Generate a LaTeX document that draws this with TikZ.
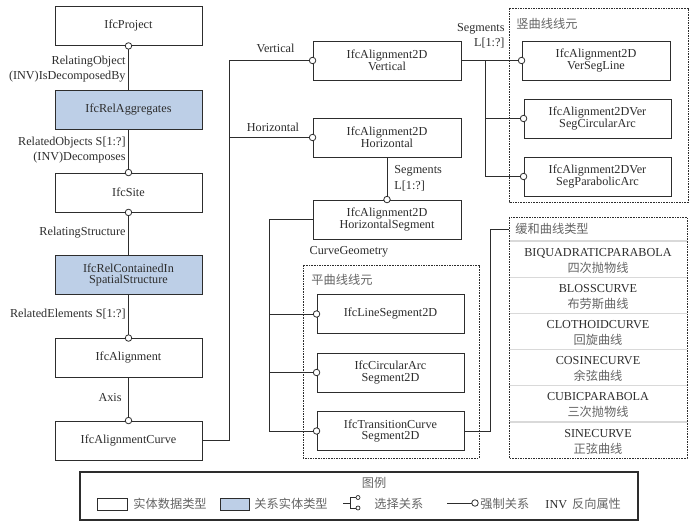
\documentclass[tikz,border=0pt]{standalone}
\usepackage{fontspec}
\setmainfont{Liberation Serif}
\newfontfamily\cjk{Noto Sans CJK SC}
\usetikzlibrary{positioning}
\definecolor{relblue}{RGB}{189,207,231}
\definecolor{inkc}{RGB}{45,45,45}
\definecolor{hanc}{RGB}{100,100,100}
\newcommand{\ent}{\fontsize{12.2}{11.5}\selectfont}
\newcommand{\lab}{\fontsize{12.2}{15.5}\selectfont}
\newcommand{\hz}[1]{{\cjk\color{hanc}#1}}

\begin{document}
\begin{tikzpicture}[x=1pt, y=-1pt, line width=0.9pt, color=inkc,
  entity/.style={draw, fill=white, minimum width=147pt, minimum height=39pt, align=center, font=\ent, inner sep=1pt},
  relent/.style={entity, fill=relblue},
  group/.style={draw, dash pattern=on 1.6pt off 1pt, line width=0.7pt},
  hollow/.style={circle, draw, fill=white, inner sep=0pt, minimum size=6.5pt, line width=0.8pt},
  tag/.style={font=\lab, inner sep=0pt, align=right},
  gtitle/.style={anchor=west, font=\ent, inner sep=0pt}]
\useasboundingbox (0,0) rectangle (693,526);

% left column
\node[entity] (proj) at (128.5,26) {IfcProject};
\node[relent] (rag) at (128.5,109.5) {IfcRelAggregates};
\node[entity] (site) at (128.5,192.5) {IfcSite};
\node[relent] (rcs) at (128.5,275) {IfcRelContainedIn\\SpatialStructure};
\node[entity] (align) at (128.5,358) {IfcAlignment};
\node[entity] (curve) at (128.5,440.5) {IfcAlignmentCurve};

% middle column
\node[entity, minimum width=148pt] (vert) at (387,60.5) {IfcAlignment2D\\Vertical};
\node[entity, minimum width=148pt] (horz) at (387,137.5) {IfcAlignment2D\\Horizontal};
\node[entity, minimum width=148pt] (hseg) at (387,219.5) {IfcAlignment2D\\HorizontalSegment};

% groups
\foreach \i in {1,...,6}
  \draw[gray!30, line width=1.3pt] (509,241+36.2*\i-36.2) -- (687,241+36.2*\i-36.2);
\draw[group] (303,265) rectangle (479,458);
\draw[group] (509,8) rectangle (688,202);
\draw[group] (509,217) rectangle (687,458);
\node[gtitle] (plantitle) at (311,280) {\hz{平曲线线元}};
\node[gtitle] (verttitle) at (516,24) {\hz{竖曲线线元}};
\node[gtitle] (typetitle) at (515,229) {\hz{缓和曲线类型}};

% plane curve elements
\node[entity] (lseg) at (390.5,314) {IfcLineSegment2D};
\node[entity] (cas) at (390.5,372.5) {IfcCircularArc\\Segment2D};
\node[entity] (tcs) at (390.5,431) {IfcTransitionCurve\\Segment2D};

% vertical curve elements
\node[entity, minimum width=148pt] (vsl) at (596,60.5) {IfcAlignment2D\\VerSegLine};
\node[entity] (vca) at (597.5,118.5) {IfcAlignment2DVer\\SegCircularArc};
\node[entity] (vpa) at (597.5,176.5) {IfcAlignment2DVer\\SegParabolicArc};

% transition curve types
\foreach \en/\zh [count=\i] in {BIQUADRATICPARABOLA/四次抛物线, BLOSSCURVE/布劳斯曲线,
    CLOTHOIDCURVE/回旋曲线, COSINECURVE/余弦曲线, CUBICPARABOLA/三次抛物线, SINECURVE/正弦曲线}
  \node[font=\fontsize{12.2}{16}\selectfont, align=center, inner sep=0pt] (row\i) at (598,241+36.2*\i-36.2+19.5) {\en\\\hz{\zh}};

% connectors
\foreach \u/\v in {proj/rag, rag/site, site/rcs, rcs/align, align/curve}
  \draw (\u) -- (\v);
\coordinate (trunk) at (229,0);
\draw (curve.east) -- (curve.east -| trunk) |- (vert.west);
\draw (horz.west) -- (horz.west -| trunk);
\draw (horz) -- (hseg);
\coordinate (hbr) at (269,0);
\draw (hseg.west) -- (hseg.west -| hbr) |- (tcs.west);
\foreach \n in {lseg, cas}
  \draw (\n.west) -- (\n.west -| hbr);
\coordinate (vbr) at (485,0);
\draw (vert) -- (vsl);
\foreach \n in {vca, vpa}
  \draw (\n.west) -| (vbr |- vert.east);
\coordinate (tbr) at (490,0);
\coordinate (tin) at (509,229);
\draw (tcs.east) -- (tcs.east -| tbr) |- (tin);
\foreach \p in {proj.south, site.north, site.south, align.north, curve.north, vert.west, horz.west,
    hseg.north, vsl.west, vca.west, vpa.west, lseg.west, cas.west, tcs.west}
  \node[hollow] at (\p) {};

% connector labels
\node[tag, anchor=east] (lrelobj) at (126,69) {RelatingObject\\(INV)IsDecomposedBy};
\node[tag, anchor=east] (lrelobjs) at (126,150) {RelatedObjects S[1:?]\\(INV)Decomposes};
\node[tag, anchor=east] (lrelstr) at (126,233) {RelatingStructure};
\node[tag, anchor=east] (lrelel) at (126,314) {RelatedElements S[1:?]};
\node[tag, anchor=east] (laxis) at (122,398) {Axis};
\node[tag] (lvert) at (275.5,48) {Vertical};
\node[tag] (lhorz) at (273,127) {Horizontal};
\node[tag, anchor=west, align=left] (lhseg) at (394,178.5) {Segments\\L[1:?]};
\node[tag, anchor=east] (lvseg) at (505,36) {Segments\\L[1:?]};
\node[tag] (lgeom) at (349,252) {CurveGeometry};

% legend
\draw[line width=1.1pt] (80,472) rectangle (638,520);
\node[font=\ent] (legtitle) at (374,483) {\hz{图例}};
\draw[fill=white, line width=0.8pt] (97,498) rectangle (127,510);
\node[gtitle] (legent) at (133,504) {\hz{实体数据类型}};
\draw[fill=relblue, line width=0.8pt] (220,498) rectangle (249,510);
\node[gtitle] (legrel) at (254,504) {\hz{关系实体类型}};
\draw[line width=0.8pt] (343,503) -- (350,503) (356,497.5) -- (350,497.5) -- (350,508) -- (356,508);
\draw[fill=white, line width=0.7pt] (358,497.5) circle (2pt) (358,508) circle (2pt);
\node[gtitle] (legopt) at (374,504) {\hz{选择关系}};
\draw[line width=0.8pt] (447,503) -- (472,503);
\node[hollow] at (475,503) {};
\node[gtitle] (legman) at (480,504) {\hz{强制关系}};
\node[gtitle] (leginv) at (545,504) {INV\hspace{5pt}\hz{反向属性}};
\end{tikzpicture}
\end{document}
